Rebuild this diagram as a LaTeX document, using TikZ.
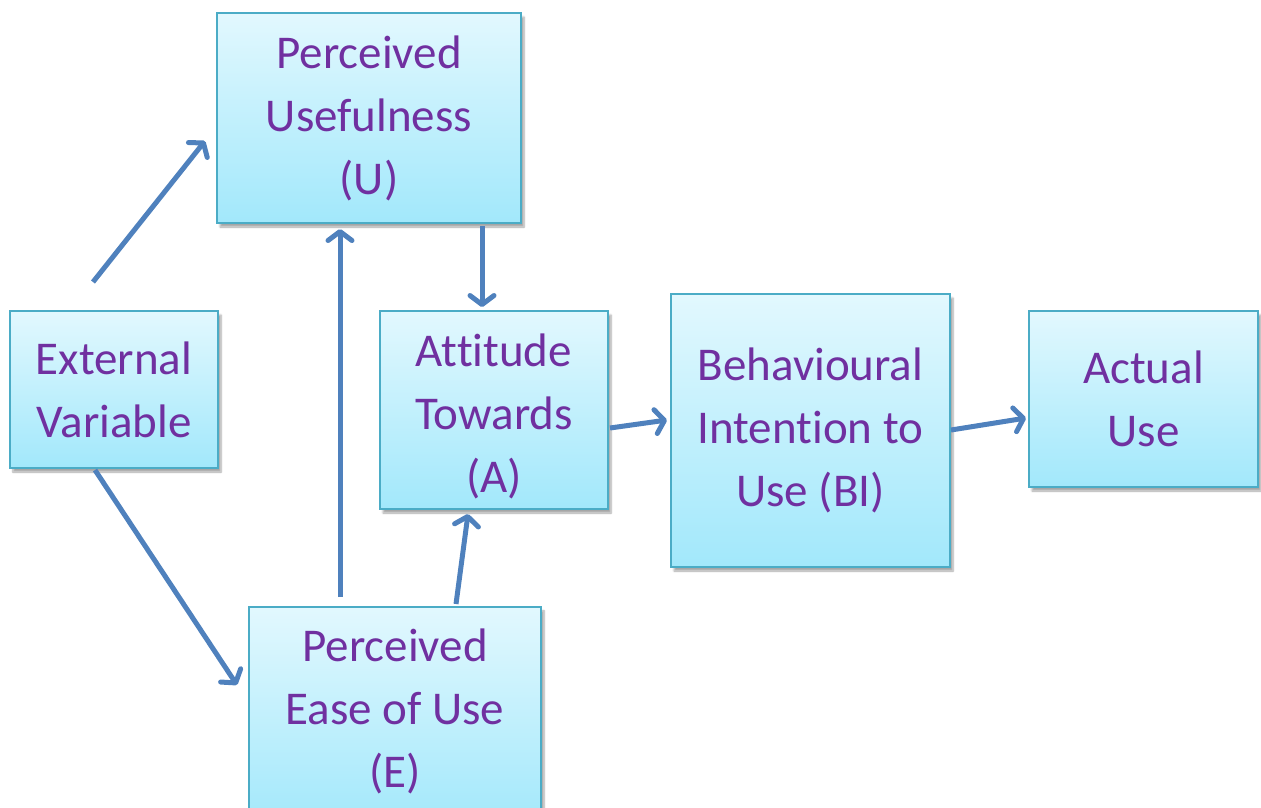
\documentclass[tikz,border=0pt]{standalone}
\usepackage{fontspec}
\setmainfont[Ligatures=NoCommon]{Carlito}
\usetikzlibrary{arrows.meta,shadows.blur}
\definecolor{boxline}{HTML}{4BACC6}
\definecolor{boxtop}{HTML}{E2F8FE}
\definecolor{boxbot}{HTML}{A2E8FB}
\definecolor{txt}{HTML}{7030A0}
\definecolor{link}{HTML}{4F81BD}
\tikzset{
  boxtext/.style={text=txt, align=center, inner sep=0pt,
    font=\fontsize{47}{63}\selectfont},
  box/.style={boxtext, draw=boxline, line width=1.6pt, top color=boxtop, bottom color=boxbot,
    blur shadow={shadow xshift=3pt, shadow yshift=-4pt, shadow blur steps=6, shadow opacity=35}},
  link/.style={draw=link, line width=5pt,
    -{Straight Barb[length=9pt,width=24pt,line width=5pt,round]}}
}
\begin{document}
\begin{tikzpicture}[x=1pt,y=-1pt]
\useasboundingbox (0,0) rectangle (1261,807);
\clip (0,0) rectangle (1261,807);
% boxes
\node[box, minimum width=304pt, minimum height=210pt] (pu) at (369,118) {Perceived\\Usefulness\\(U)};
\node[box, minimum width=208pt, minimum height=157pt] (ev) at (114,389.5) {External\\Variable};
\node[box, minimum width=228pt, minimum height=198pt] (at) at (494,410) {};
\node[boxtext] (att) at (494,416) {Attitude\\Towards\\(A)};
\node[box, minimum width=279pt, minimum height=273pt] (bi) at (810.5,430.5) {Behavioural\\Intention to\\Use (BI)};
\node[box, minimum width=229pt, minimum height=176pt] (au) at (1143.5,399) {Actual\\Use};
\node[box, minimum width=292pt, minimum height=220pt, anchor=north] (pe) at (395,606) {};
\node[boxtext] (pet) at (395,711) {Perceived\\Ease of Use\\(E)};
% free ends of the connectors
\coordinate (ev-a) at (93,282);
\coordinate (pu-a) at (205,141);
\coordinate (ev-b) at (95,470);
\coordinate (pe-b) at (237,685);
\coordinate (pe-c) at (340,597);
\coordinate (pu-c) at (340,229);
\coordinate (pe-d) at (456,604);
\coordinate (at-d) at (468,514);
\coordinate (pu-e) at (482,226);
\coordinate (at-e) at (482,307);
\coordinate (at-f) at (610,428);
\coordinate (bi-f) at (667,420);
\coordinate (bi-g) at (951,430);
\coordinate (au-g) at (1026,418);
% connectors
\draw[link] (ev-a) -- (pu-a);
\draw[link] (ev-b) -- (pe-b);
\draw[link] (pe-c) -- (pu-c);
\draw[link] (pe-d) -- (at-d);
\draw[link] (pu-e) -- (at-e);
\draw[link] (at-f) -- (bi-f);
\draw[link] (bi-g) -- (au-g);
\end{tikzpicture}
\end{document}
